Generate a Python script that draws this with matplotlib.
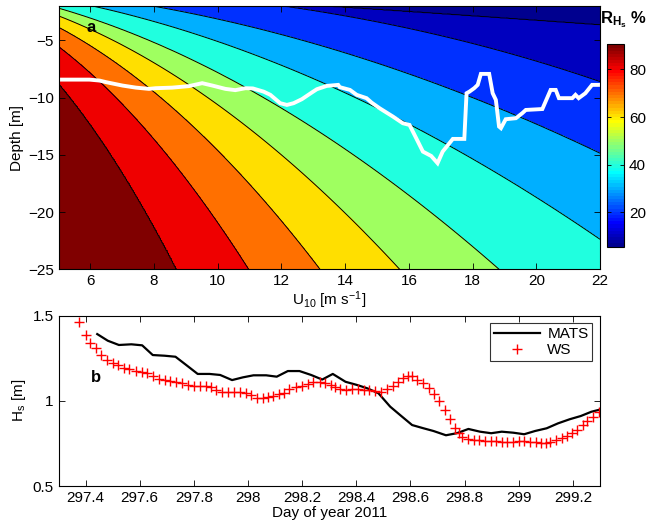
import numpy as np
import matplotlib
matplotlib.use('Agg')
import matplotlib.pyplot as plt
from matplotlib import cm, colors
from matplotlib.ticker import FuncFormatter

plt.rcParams['font.family'] = ['Liberation Sans', 'DejaVu Sans']
plt.rcParams['mathtext.fontset'] = 'custom'
plt.rcParams['mathtext.rm'] = 'Liberation Sans'
plt.rcParams['mathtext.it'] = 'Liberation Sans:italic'
plt.rcParams['mathtext.bf'] = 'Liberation Sans:bold'
FONTSIZE = 11

# panel a: contour levels of R_Hs and two points read on each contour line
U_MIN, U_MAX = 5, 22
Z_MIN, Z_MAX = -25, -2
levels = [10, 20, 30, 40, 50, 60, 70, 80, 90]
lev_u1 = [13.3, 12.1, 7.95, 6.07, 5.0, 5.0, 5.0, 5.0, 5.0]
lev_z1 = [-2.0, -2.0, -2.0, -2.0, -2.19, -2.86, -3.85, -5.54, -8.74]
lev_u2 = [22.0, 22.0, 22.0, 22.0, 18.83, 15.71, 13.21, 10.97, 8.71]
lev_z2 = [-3.65, -8.6, -14.86, -22.38, -25.0, -25.0, -25.0, -25.0, -25.0]
CLIM = (5.6, 90.5)

# white line in panel a
wl_u = [5.03, 5.97, 6.28, 6.49, 7.01, 7.43, 7.84, 8.05, 8.57, 9.09, 9.51, 9.83,
        10.24, 10.55, 10.87, 11.1, 11.44, 11.65, 11.96, 12.17, 12.38, 12.64, 12.95,
        13.11, 13.42, 13.78, 13.83, 14.15, 14.36, 14.67, 14.83, 15.08, 15.5, 15.81,
        16.02, 16.23, 16.44, 16.7, 16.9, 17.06, 17.27, 17.38, 17.74, 17.81, 17.9,
        18.05, 18.16, 18.26, 18.52, 18.63, 18.73, 18.83, 18.89, 19.04, 19.36, 19.56,
        19.67, 20.19, 20.45, 20.61, 20.71, 21.13, 21.23, 21.33, 21.54, 21.75, 22.0]
wl_d = [-8.43, -8.43, -8.51, -8.65, -8.95, -9.13, -9.24, -9.18, -9.13, -9.0, -8.74, -8.95,
        -9.24, -9.35, -9.18, -9.2, -9.48, -9.76, -10.49, -10.64, -10.49, -10.14, -9.56,
        -9.27, -8.98, -8.89, -9.09, -9.33, -9.76, -10.05, -10.44, -10.93, -11.66, -12.24,
        -12.39, -13.55, -14.72, -15.1, -15.73, -14.72, -13.99, -13.61, -13.61, -9.62, -9.48,
        -9.18, -8.89, -7.93, -7.93, -9.62, -10.2, -12.53, -12.67, -11.89, -11.8, -11.36,
        -11.08, -11.0, -9.33, -9.33, -10.05, -10.05, -9.76, -10.05, -9.62, -8.89, -8.89]

# panel b
mats_day = [297.443, 297.482, 297.523, 297.569, 297.609, 297.648, 297.692, 297.732,
            297.772, 297.814, 297.858, 297.897, 297.941, 297.981, 298.02, 298.067,
            298.106, 298.147, 298.19, 298.233, 298.274, 298.313, 298.36, 298.403,
            298.44, 298.482, 298.525, 298.566, 298.606, 298.648, 298.685, 298.731,
            298.771, 298.814, 298.857, 298.898, 298.937, 298.98, 299.02, 299.06,
            299.103, 299.145, 299.188, 299.229, 299.268, 299.293]
mats_hs = [1.392, 1.353, 1.328, 1.332, 1.326, 1.269, 1.265, 1.259, 1.21, 1.158, 1.158,
           1.152, 1.122, 1.138, 1.15, 1.15, 1.142, 1.175, 1.175, 1.152, 1.125, 1.158,
           1.112, 1.093, 1.074, 1.044, 0.966, 0.911, 0.858, 0.839, 0.823, 0.798, 0.81,
           0.835, 0.819, 0.81, 0.819, 0.813, 0.804, 0.823, 0.839, 0.868, 0.892, 0.911,
           0.936, 0.946]

ws_day = [297.375, 297.400, 297.415, 297.439, 297.458, 297.479, 297.501, 297.519,
          297.540, 297.562, 297.587, 297.609, 297.626, 297.648, 297.670, 297.692,
          297.713, 297.735, 297.757, 297.777, 297.799, 297.821, 297.843, 297.864,
          297.882, 297.904, 297.925, 297.947, 297.970, 297.993, 298.011, 298.032,
          298.054, 298.073, 298.094, 298.116, 298.134, 298.153, 298.177, 298.200,
          298.220, 298.241, 298.264, 298.286, 298.305, 298.320, 298.341, 298.362,
          298.384, 298.406, 298.427, 298.448, 298.470, 298.492, 298.513, 298.534,
          298.554, 298.571, 298.591, 298.606, 298.624, 298.645, 298.667, 298.685,
          298.706, 298.729, 298.747, 298.766, 298.780, 298.790, 298.812, 298.833,
          298.854, 298.875, 298.896, 298.917, 298.938, 298.958, 298.979, 299.000,
          299.021, 299.042, 299.063, 299.083, 299.100, 299.115, 299.137, 299.158,
          299.177, 299.195, 299.216, 299.236, 299.253, 299.275, 299.297]
ws_hs = [1.465, 1.387, 1.342, 1.309, 1.269, 1.240, 1.224, 1.210, 1.195, 1.185, 1.175,
         1.171, 1.162, 1.146, 1.130, 1.122, 1.117, 1.111, 1.103, 1.093, 1.087, 1.087,
         1.087, 1.079, 1.064, 1.054, 1.054, 1.054, 1.050, 1.044, 1.034, 1.015, 1.015,
         1.025, 1.029, 1.038, 1.048, 1.068, 1.079, 1.087, 1.099, 1.110, 1.110, 1.105,
         1.093, 1.079, 1.068, 1.064, 1.068, 1.068, 1.064, 1.064, 1.060, 1.054, 1.068,
         1.087, 1.113, 1.132, 1.146, 1.146, 1.122, 1.107, 1.074, 1.040, 1.000, 0.946,
         0.892, 0.839, 0.810, 0.790, 0.774, 0.771, 0.768, 0.765, 0.765, 0.762, 0.760,
         0.760, 0.760, 0.762, 0.762, 0.760, 0.757, 0.752, 0.755, 0.760, 0.769, 0.780,
         0.791, 0.810, 0.830, 0.856, 0.883, 0.907, 0.936]

# matlab style jet, 64 colours
x = np.arange(1, 65) / 64.0
jet = colors.ListedColormap(np.column_stack([
    np.clip(1.5 - np.abs(4 * x - 3), 0, 1),
    np.clip(1.5 - np.abs(4 * x - 2), 0, 1),
    np.clip(1.5 - np.abs(4 * x - 1), 0, 1)]))

# field: each contour line taken as |z| = C * U^p through its two points
u_grid = np.linspace(U_MIN, U_MAX, 400)
z_grid = np.linspace(Z_MIN, Z_MAX, 400)
lz1 = np.log(-np.array(lev_z1))
lz2 = np.log(-np.array(lev_z2))
lu1 = np.log(lev_u1)
lu2 = np.log(lev_u2)
p = (lz2 - lz1) / (lu2 - lu1)
lev_logz = lz1[:, None] + p[:, None] * (np.log(u_grid)[None, :] - lu1[:, None])
lev_logz = np.maximum.accumulate(lev_logz, axis=0)
lev_logz += np.arange(len(levels))[:, None] * 1e-6
rr = np.empty((len(z_grid), len(u_grid)))
for j in range(len(u_grid)):
    xp = np.concatenate([[lev_logz[0, j] - 5], lev_logz[:, j], [lev_logz[-1, j] + 5]])
    rr[:, j] = np.interp(np.log(-z_grid), xp, [0] + levels + [100])

fig = plt.figure(figsize=(6.46, 5.28), dpi=100)

# ---- panel a ----
ax_a = fig.add_axes([0.0906, 0.49, 0.8382, 0.4986])
norm = colors.Normalize(*CLIM)
bounds = [0] + levels + [100]
band_colors = [jet(0)] + [jet(norm(l)) for l in levels]
ax_a.contourf(u_grid, z_grid, rr, levels=bounds, colors=band_colors)
ax_a.contour(u_grid, z_grid, rr, levels=levels, colors='k', linewidths=0.7)
ax_a.plot(wl_u, wl_d, color='white', linewidth=2.8, solid_joinstyle='miter')
ax_a.set_xlim(U_MIN, U_MAX)
ax_a.set_ylim(Z_MIN, Z_MAX)
ax_a.set_xticks(range(6, 23, 2))
ax_a.set_yticks([-25, -20, -15, -10, -5])
ax_a.set_xlabel(r'U$_{10}$ [m s$^{-1}$]', fontsize=FONTSIZE, labelpad=1)
ax_a.set_ylabel('Depth [m]', fontsize=FONTSIZE, labelpad=3)
ax_a.text(6.02, -3.9, 'a', fontsize=12, fontweight='bold', ha='center', va='center')

cax = fig.add_axes([0.939, 0.533, 0.027, 0.383])
cb = fig.colorbar(cm.ScalarMappable(norm=norm, cmap=jet), cax=cax)
cb.set_ticks([20, 40, 60, 80])
cb.outline.set_linewidth(0.8)
cax.tick_params(direction='in', left=True, right=True, labelsize=FONTSIZE, length=3, width=0.6)
fig.text(0.965, 0.982, r'$\mathbf{R}_{\mathbf{H}_{\mathbf{s}}}$ $\mathbf{\%}$', fontsize=12,
         ha='center', va='top')

# ---- panel b ----
ax_b = fig.add_axes([0.0906, 0.0795, 0.8382, 0.3226])
ax_b.plot(mats_day, mats_hs, color='k', linewidth=1.6, label='MATS')
ax_b.plot(ws_day, ws_hs, linestyle='none', marker='+', color='red', markersize=7,
          markeredgewidth=1.0, label='WS')
ax_b.set_xlim(297.3, 299.3)
ax_b.set_ylim(0.5, 1.5)
ax_b.set_xticks(np.arange(297.4, 299.21, 0.2))
ax_b.set_yticks([0.5, 1, 1.5])
ax_b.xaxis.set_major_formatter(FuncFormatter(lambda v, p: '%g' % round(v, 1)))
ax_b.yaxis.set_major_formatter(FuncFormatter(lambda v, p: '%g' % v))
ax_b.set_xlabel('Day of year 2011', fontsize=FONTSIZE, labelpad=1)
ax_b.set_ylabel(r'H$_\mathrm{s}$ [m]', fontsize=FONTSIZE, labelpad=3)
ax_b.text(297.44, 1.14, 'b', fontsize=12, fontweight='bold', ha='center', va='center')
leg = ax_b.legend(loc='upper right', fontsize=FONTSIZE, fancybox=False, edgecolor='k',
                  handlelength=3.0, borderpad=0.25, labelspacing=0.15, borderaxespad=0.5,
                  handletextpad=0.5)
leg.get_frame().set_linewidth(0.8)

for ax in (ax_a, ax_b):
    ax.tick_params(direction='in', top=True, right=True, labelsize=FONTSIZE,
                   length=4, width=0.6)
    for s in ax.spines.values():
        s.set_linewidth(0.8)

fig.savefig('out.png', dpi=100)
